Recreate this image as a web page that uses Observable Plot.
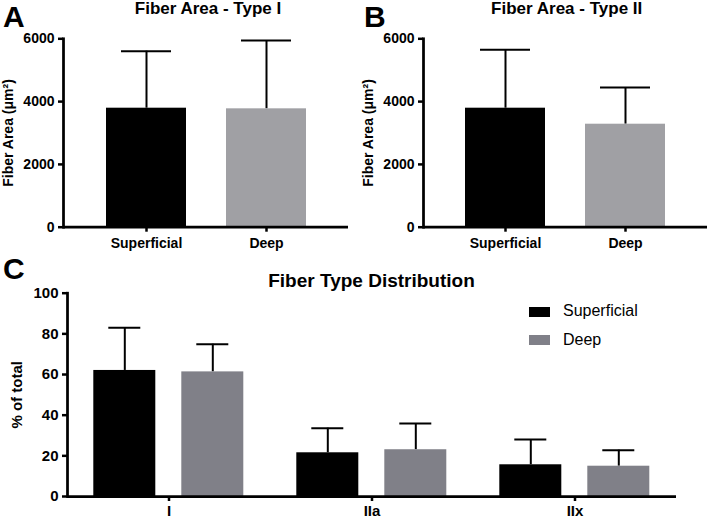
<!DOCTYPE html>
<html><head><meta charset="utf-8">
<script src="https://cdn.jsdelivr.net/npm/d3@7"></script>
<script src="https://cdn.jsdelivr.net/npm/@observablehq/plot@0.6"></script>
<style>
body{margin:0;background:#fff;font-family:"Liberation Sans",Arial,sans-serif;}
#root{position:relative;width:709px;height:520px;overflow:hidden;background:#fff;}
.abs{position:absolute;white-space:nowrap;color:#000;line-height:1;}
.letter{font-weight:bold;line-height:1.12;}
.title{font-weight:bold;transform:translateX(-50%);}
.leg{font-size:16px;}
.sw{position:absolute;width:21px;height:10px;}
svg{position:absolute;overflow:visible;}
</style></head><body><div id="root"></div>
<script>
// ---- data ----
const areaSeries = ["Superficial", "Deep"];
const areaTicks = [0, 2000, 4000, 6000];
const typeIMean = [3790, 3770];
const typeISD = [1815, 2176];
const typeIIMean = [3790, 3280];
const typeIISD = [1860, 1170];

const fiberTypes = ["I", "IIa", "IIx"];
const pctTicks = [0, 20, 40, 60, 80, 100];
const superficialPct = [62.0, 21.5, 15.6];
const superficialSD = [21.0, 12.1, 12.4];
const deepPct = [61.3, 23.0, 14.9];
const deepSD = [13.6, 12.9, 7.9];

const FONT = "Liberation Sans, Arial, Helvetica, sans-serif";
const root = document.getElementById("root");

function place(el, left, top) {
  el.style.left = left + "px";
  el.style.top = top + "px";
  root.appendChild(el);
}
function label(text, cls, left, top, size) {
  const d = document.createElement("div");
  d.className = "abs " + cls;
  d.textContent = text;
  if (size) d.style.fontSize = size + "px";
  place(d, left, top);
}

function areaChart(means, sds, width, marginLeft, marginRight) {
  const data = areaSeries.map((s, i) => ({series: s, mean: means[i], upper: means[i] + sds[i]}));
  return Plot.plot({
    width, height: 255,
    marginTop: 38.3, marginBottom: 28.3, marginLeft, marginRight,
    style: {fontFamily: FONT, fontSize: "14px", fontWeight: "bold", color: "#000", background: "transparent"},
    x: {domain: areaSeries, paddingInner: 0.336, paddingOuter: 0.35, label: null},
    y: {domain: [0, 6000], label: null},
    color: {domain: areaSeries, range: ["#000000", "#a0a0a4"]},
    marks: [
      Plot.ruleX(data, {x: "series", y1: "mean", y2: "upper", stroke: "#000", strokeWidth: 2}),
      Plot.tickY(data, {x: "series", y: "upper", stroke: "#000", strokeWidth: 2, inset: 15}),
      Plot.barY(data, {x: "series", y: "mean", fill: "series"}),
      Plot.axisY({ticks: areaTicks, tickFormat: "d", tickSize: 5, tickPadding: 4, strokeWidth: 2.5,
        label: "Fiber Area (μm²)", labelAnchor: "center", labelArrow: "none", labelOffset: 60, fontSize: 14}),
      Plot.axisX({tickSize: 5, tickPadding: 6, strokeWidth: 2.5, label: null, fontSize: 14}),
      Plot.ruleY([0], {stroke: "#000", strokeWidth: 2.75}),
      Plot.frame({anchor: "left", stroke: "#000", strokeWidth: 2.75})
    ]
  });
}

const a = areaChart(typeIMean, typeISD, 355, 63, 7);
place(a, 0, 0);
const b = areaChart(typeIIMean, typeIISD, 354, 68, 2);
place(b, 355, 0);

const cData = [];
fiberTypes.forEach((t, i) => {
  cData.push({type: t, series: "Superficial", mean: superficialPct[i], upper: superficialPct[i] + superficialSD[i]});
  cData.push({type: t, series: "Deep", mean: deepPct[i], upper: deepPct[i] + deepSD[i]});
});

const c = Plot.plot({
  width: 709, height: 265,
  marginTop: 37.7, marginBottom: 24, marginLeft: 66.7, marginRight: 33.2,
  style: {fontFamily: FONT, fontSize: "15px", fontWeight: "bold", color: "#000", background: "transparent"},
  fx: {domain: fiberTypes, padding: 0, label: null},
  x: {domain: areaSeries, padding: 0.294, axis: null},
  y: {domain: [0, 100], label: null},
  color: {domain: areaSeries, range: ["#000000", "#808088"]},
  marks: [
    Plot.ruleX(cData, {fx: "type", x: "series", y1: "mean", y2: "upper", stroke: "#000", strokeWidth: 2}),
    Plot.tickY(cData, {fx: "type", x: "series", y: "upper", stroke: "#000", strokeWidth: 2, inset: 15}),
    Plot.barY(cData, {fx: "type", x: "series", y: "mean", fill: "series"}),
    Plot.ruleY([0], {stroke: "#000", strokeWidth: 2.75}),
    Plot.frame({anchor: "left", facetAnchor: "left", stroke: "#000", strokeWidth: 2.75}),
    Plot.axisY({ticks: pctTicks, tickFormat: "d", tickSize: 5, tickPadding: 4, strokeWidth: 2.5,
      label: "% of total", labelAnchor: "center", labelArrow: "none", labelOffset: 56, fontSize: 15}),
    Plot.axisFx({anchor: "bottom", tickSize: 5, tickPadding: 4, strokeWidth: 2.5, label: null, fontSize: 15})
  ]
});
place(c, 0, 255);

// titles and panel letters
label("A", "letter", 3, 0, 30);
label("B", "letter", 364, 0, 30);
label("C", "letter", 3, 252, 30);
label("Fiber Area - Type I", "title", 208, 0, 17);
label("Fiber Area - Type II", "title", 566.7, 0, 17);
label("Fiber Type Distribution", "title", 371.5, 270.6, 19);

// legend for C
const legendItems = [["Superficial", "#000000", 306.7, 303], ["Deep", "#808088", 335, 331.5]];
legendItems.forEach(([name, col, sy, ty]) => {
  const s = document.createElement("div");
  s.className = "sw";
  s.style.background = col;
  place(s, 529, sy);
  label(name, "leg", 563, ty);
});
</script></body></html>
